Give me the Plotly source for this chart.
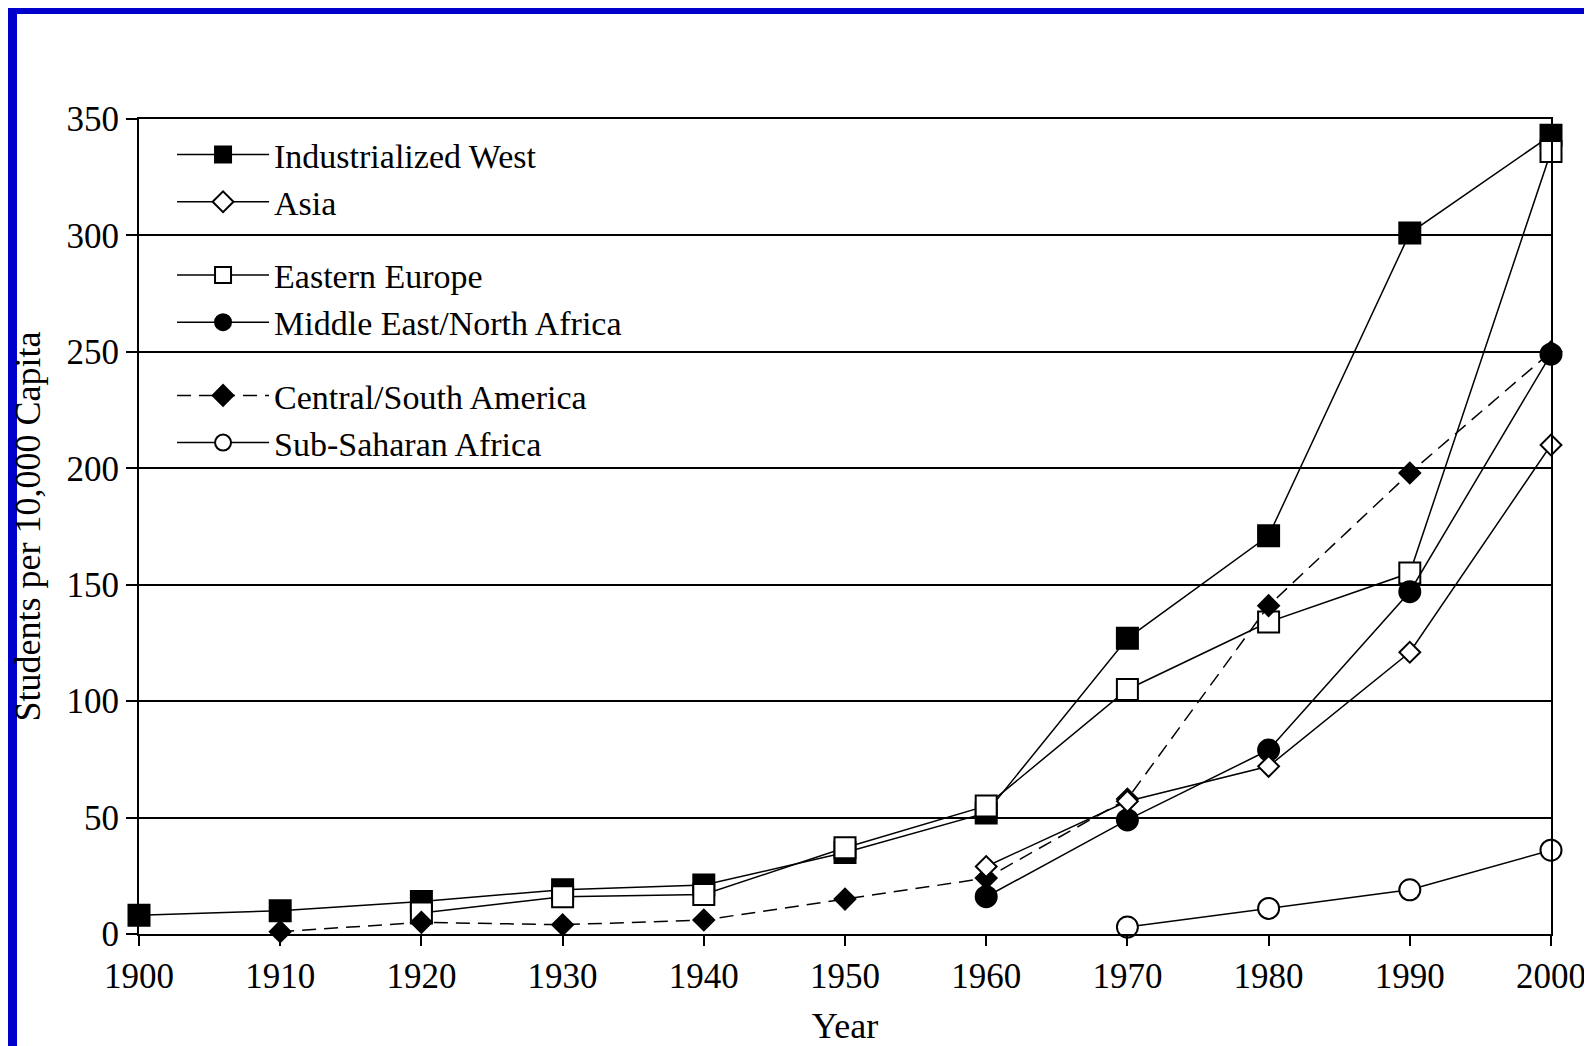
import plotly.graph_objects as go

years = [1900, 1910, 1920, 1930, 1940, 1950, 1960, 1970, 1980, 1990, 2000]

industrialized_west = [8, 10, 14, 19, 21, 35, 52, 127, 171, 301, 343]
eastern_europe = [None, None, 9, 16, 17, 37, 55, 105, 134, 155, 336]
middle_east_na = [None, None, None, None, None, None, 16, 49, 79, 147, 249]
central_south_am = [None, 1, 5, 4, 6, 15, 24, 58, 141, 198, 250]
asia = [None, None, None, None, None, None, 29, 57, 72, 121, 210]
sub_saharan = [None, None, None, None, None, None, None, 3, 11, 19, 36]

y_ticks = [0, 50, 100, 150, 200, 250, 300, 350]

FONT = "Liberation Serif"
BLUE = "#0000cc"

fig = go.Figure()

def add(name, y, symbol, fill, group, dash="solid", size=21):
    fig.add_trace(go.Scatter(
        x=years, y=y, name=name, mode="lines+markers",
        legendgroup=group,
        line=dict(color="black", width=1.5, dash=dash),
        marker=dict(symbol=symbol, size=size, color=fill,
                    line=dict(color="black", width=2)),
        cliponaxis=False, connectgaps=False,
    ))

# drawing order chosen to match overlaps in the reference
add("Industrialized West", industrialized_west, "square", "black", "g1", size=21)
add("Eastern Europe", eastern_europe, "square", "white", "g2", size=21)
add("Middle East/North Africa", middle_east_na, "circle", "black", "g2", size=21)
add("Central/South America", central_south_am, "diamond", "black", "g3", dash="14px,8px", size=16)
add("Asia", asia, "diamond", "white", "g1", size=16)
add("Sub-Saharan Africa", sub_saharan, "circle", "white", "g3", size=21)

# the page places the figure 8 px from the window's top-left corner
W, H = 1584, 1038
L, R, T, B = 131, 41, 111, 112
pw, ph = W - L - R, H - T - B

fig.add_shape(type="rect", xref="paper", yref="paper", layer="below",
              x0=(9 - L) / pw, x1=(W - L + 20) / pw,
              y0=-(B + 20) / ph, y1=(ph + T - 6) / ph,
              fillcolor="white", line=dict(width=0))

fig.update_layout(
    template="none",
    width=W, height=H,
    margin=dict(l=L, r=R, t=T, b=B, autoexpand=False),
    paper_bgcolor=BLUE,
    plot_bgcolor="white",
    font=dict(family=FONT, size=35, color="black"),
    showlegend=True,
    legend=dict(
        x=0.0234, y=0.9914, xanchor="left", yanchor="top",
        bgcolor="rgba(0,0,0,0)", borderwidth=0,
        traceorder="grouped", tracegroupgap=26,
        itemwidth=92,
        font=dict(family=FONT, size=34, color="black"),
    ),
)

fig.update_xaxes(
    automargin=False,
    range=[1900, 2000], tickvals=years, ticktext=[str(v) for v in years],
    ticks="outside", ticklen=10, tickwidth=1.5, tickcolor="black",
    showline=True, linecolor="black", linewidth=2, mirror=True,
    showgrid=False, zeroline=False,
    tickfont=dict(family=FONT, size=35, color="black"),
    title=dict(text="Year", font=dict(family=FONT, size=36, color="black"), standoff=25),
)
fig.update_yaxes(
    automargin=False,
    range=[0, 350], tickvals=y_ticks, ticktext=[str(v) for v in y_ticks],
    ticks="outside", ticklen=11, tickwidth=1.5, tickcolor="black",
    showline=True, linecolor="black", linewidth=2, mirror=True,
    showgrid=True, gridcolor="black", gridwidth=2, zeroline=False,
    tickfont=dict(family=FONT, size=35, color="black"),
    title=dict(text="Students per 10,000 Capita", font=dict(family=FONT, size=36, color="black"), standoff=16),
)

fig.write_html("out.html")
